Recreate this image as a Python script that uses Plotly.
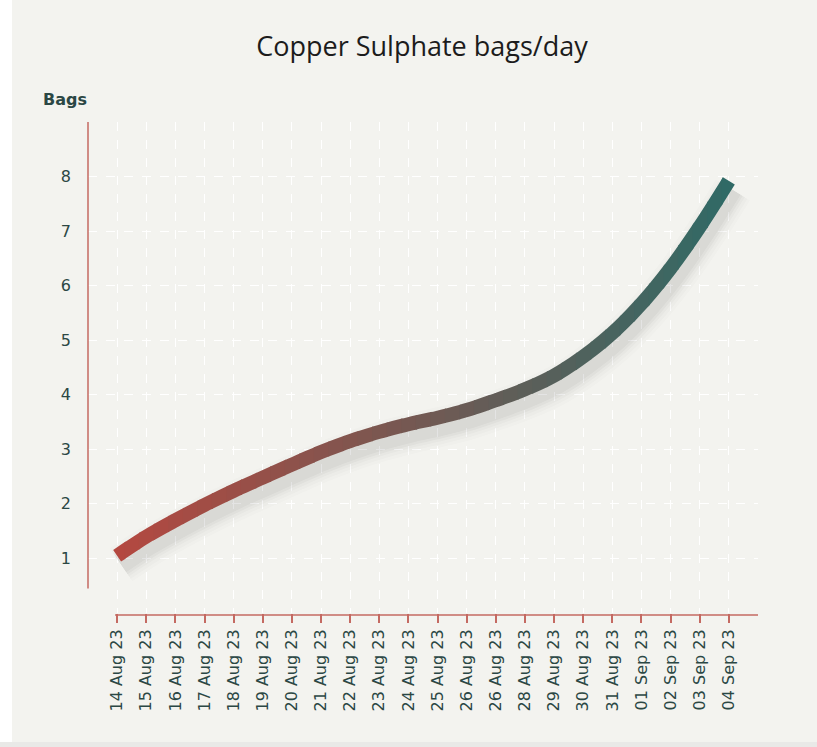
import plotly.graph_objects as go

# ---- data ----
dates = ["14 Aug 23", "15 Aug 23", "16 Aug 23", "17 Aug 23", "18 Aug 23", "19 Aug 23",
         "20 Aug 23", "21 Aug 23", "22 Aug 23", "23 Aug 23", "24 Aug 23", "25 Aug 23",
         "26 Aug 23", "26 Aug 23", "28 Aug 23", "29 Aug 23", "30 Aug 23", "31 Aug 23",
         "01 Sep 23", "02 Sep 23", "03 Sep 23", "04 Sep 23"]
bags = [1.05, 1.40, 1.70, 1.98, 2.24, 2.48, 2.72, 2.95, 3.15, 3.32, 3.46, 3.58,
        3.72, 3.90, 4.10, 4.35, 4.70, 5.13, 5.67, 6.32, 7.08, 7.92]
y_ticks = [1, 2, 3, 4, 5, 6, 7, 8]

# ---- style ----
BG = "#f3f3ef"
TXT = "#2b4744"
AXIS_RED = "#c46a62"
C_START = (180, 72, 64)
C_END = (48, 106, 102)
LW = 14

idx = list(range(len(dates)))
n = len(dates)
XR = [-1, n]
YR = [0, 9]
XSPAN = XR[1] - XR[0]
px_per_x = 670 / XSPAN
px_per_y = 491 / (YR[1] - YR[0])

def mix(t):
    t = min(max(t, 0), 1)
    r = [round(a + (b - a) * t) for a, b in zip(C_START, C_END)]
    return "rgb(%d,%d,%d)" % tuple(r)

fig = go.Figure()
layout_axes = {}
hidden = dict(visible=False, fixedrange=True)

# dummy trace for base axes (grid / ticks)
fig.add_trace(go.Scatter(x=idx, y=bags, mode="lines", line=dict(width=0),
                         hoverinfo="skip", showlegend=False, xaxis="x", yaxis="y"))

# soft shadow on offset overlay axes
dx = 4 / px_per_x
dy = 9 / px_per_y
for w, a in [(40, 0.014), (34, 0.018), (28, 0.024), (23, 0.03), (18, 0.036)]:
    fig.add_trace(go.Scatter(x=idx, y=bags, mode="lines",
                             line=dict(width=w, color="rgba(40,40,40,%g)" % a, shape="spline"),
                             hoverinfo="skip", showlegend=False, xaxis="x2", yaxis="y2"))
layout_axes["xaxis2"] = dict(overlaying="x", range=[XR[0] - dx, XR[1] - dx], **hidden)
layout_axes["yaxis2"] = dict(overlaying="y", range=[YR[0] + dy, YR[1] + dy], **hidden)

# main line: full spline drawn in narrow clipped strips to get a colour gradient
layout_axes["yaxis3"] = dict(domain=[0, 1], range=YR, anchor="x4", **hidden)
step = 0.5
u = -0.75
k = 4
eps = 0.04
while u < n - 1 + 0.75:
    u0, u1 = u, u + step + eps
    d0 = (u0 - XR[0]) / XSPAN
    d1 = min((u1 - XR[0]) / XSPAN, 1)
    name = "xaxis%d" % k
    layout_axes[name] = dict(domain=[d0, d1], range=[u0, u1], anchor="y3", **hidden)
    fig.add_trace(go.Scatter(x=idx, y=bags, mode="lines",
                             line=dict(width=LW, color=mix((u + step / 2) / (n - 1)), shape="spline"),
                             hoverinfo="skip", showlegend=False, xaxis="x%d" % k, yaxis="y3"))
    u += step
    k += 1

fig.update_layout(
    width=817, height=747,
    paper_bgcolor=BG, plot_bgcolor="rgba(0,0,0,0)",
    margin=dict(l=88, r=59, t=122, b=134),
    showlegend=False,
    title=dict(text="Copper Sulphate bags/day", x=422 / 817, xanchor="center", y=1 - 47 / 747, yanchor="middle",
               font=dict(family="Open Sans", size=27, color="#1c1c1c")),
    xaxis=dict(range=XR, domain=[0, 1], tickvals=idx, ticktext=dates, tickangle=-90,
               ticks="outside", ticklen=9, tickcolor=AXIS_RED, tickwidth=1.5,
               tickfont=dict(family="DejaVu Sans", size=16, color=TXT),
               showgrid=True, gridcolor="white", griddash="dash", gridwidth=1,
               minor=dict(dtick=1, tick0=0, showgrid=True, gridcolor="white", griddash="dash", gridwidth=1),
               showline=False, zeroline=False, fixedrange=True),
    yaxis=dict(range=YR, domain=[0, 1], tickvals=y_ticks, ticks="", ticklabelstandoff=16,
               tickfont=dict(family="DejaVu Sans", size=16, color=TXT),
               showgrid=True, gridcolor="white", griddash="dash", gridwidth=1,
               minor=dict(dtick=1, tick0=0, showgrid=True, gridcolor="white", griddash="dash", gridwidth=1),
               showline=False, zeroline=False, fixedrange=True),
    shapes=[
        dict(type="line", xref="x", yref="paper", x0=-0.07, x1=XR[1], y0=-0.004, y1=-0.004,
             line=dict(color=AXIS_RED, width=1.5)),
        dict(type="line", xref="paper", yref="paper", x0=0, x1=0, y0=0.05, y1=1,
             line=dict(color=AXIS_RED, width=1.5)),
        dict(type="rect", xref="paper", yref="paper", x0=-88 / 670, x1=-76 / 670, y0=-0.3, y1=1.3,
             fillcolor="white", line=dict(width=0), layer="below"),
        dict(type="rect", xref="paper", yref="paper", x0=-0.2, x1=1.2, y0=-134 / 491, y1=-129 / 491,
             fillcolor="#e9e9e7", line=dict(width=0), layer="below"),
    ],
    annotations=[
        dict(text="<b>Bags</b>", xref="paper", yref="paper", x=-23 / 670, y=1 + 22 / 491,
             xanchor="center", yanchor="middle", showarrow=False,
             font=dict(family="DejaVu Sans", size=16, color=TXT)),
    ],
    **layout_axes,
)

fig.write_html("out.html", config={"displayModeBar": False},
               post_script="document.body.style.margin='0';document.body.style.overflow='hidden';")
